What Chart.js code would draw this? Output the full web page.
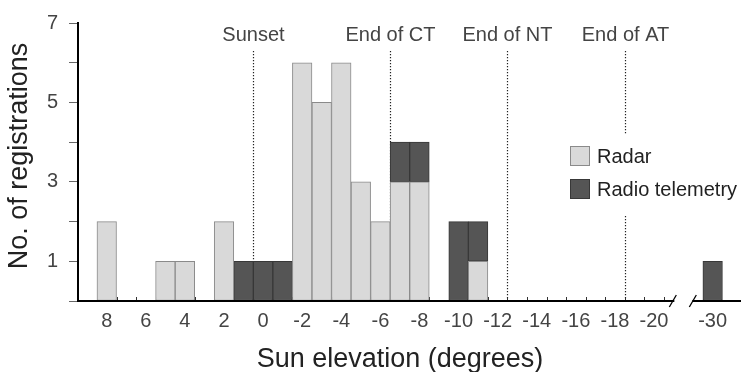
<!DOCTYPE html>
<html>
<head>
<meta charset="utf-8">
<script src="https://cdn.jsdelivr.net/npm/chart.js@4.4.1/dist/chart.umd.min.js"></script>
<style>
  html, body { margin: 0; padding: 0; background: #fff; }
  #wrap { width: 741px; height: 372px; }
</style>
</head>
<body>
<div id="wrap"><canvas id="chart"></canvas></div>
<script>
// sun elevation bins (degrees) and number of registrations per bin
var elevations      = [8, 5, 4, 2, 1, 0, -1, -2, -3, -4, -5, -6, -7, -8, -10, -11, -30];
var radarCounts     = [2, 1, 1, 2, 0, 0, 0, 6, 5, 6, 3, 2, 3, 3, 0, 1, 0];
var telemetryCounts = [0, 0, 0, 0, 1, 1, 1, 0, 0, 0, 0, 0, 1, 1, 2, 1, 1];

var xTickLabels = [8, 6, 4, 2, 0, -2, -4, -6, -8, -10, -12, -14, -16, -18, -20, -30];
var yTickLabels = [1, 3, 5, 7];

var xTitle = 'Sun elevation (degrees)';
var yTitle = 'No. of registrations';

// twilight limits (drawn on bin edges)
var markerNames = ['Sunset', 'End of CT', 'End of NT', 'End of AT'];
var markerAt    = [0.5, -6.5, -12.5, -18.5];

// axis break: everything below -20 is pulled left by 7 degrees
var BREAK_FROM = -20, BREAK_GAP = 7, BREAK_MARK = -21.5;
function toAxis(e) { return e < BREAK_FROM ? e + BREAK_GAP : e; }
function fromAxis(v) { return v < BREAK_FROM ? v - BREAK_GAP : v; }
function nz(v) { return v === 0 ? null : v; }

var FONT = "'Liberation Sans', Arial, Helvetica, sans-serif";
Chart.defaults.font.family = FONT;

var decor = {
    id: 'decor',
    beforeDatasetsDraw: function (chart) {
        var c = chart.ctx, xs = chart.scales.x, area = chart.chartArea;
        c.save();
        // small inside ticks on every bin edge
        c.strokeStyle = '#333';
        c.lineWidth = 1;
        for (var e = 8.5; e >= BREAK_FROM - 0.5; e -= 1) {
            var px = Math.round(xs.getPixelForValue(e)) + 0.5;
            c.beginPath();
            c.moveTo(px, area.bottom);
            c.lineTo(px, area.bottom - 4);
            c.stroke();
        }
        // twilight dotted lines + labels
        c.setLineDash([1.2, 1.8]);
        c.strokeStyle = '#222';
        c.lineWidth = 1.2;
        c.fillStyle = '#444';
        c.font = '20px ' + FONT;
        c.textAlign = 'center';
        c.textBaseline = 'alphabetic';
        markerAt.forEach(function (m, i) {
            var px = Math.round(xs.getPixelForValue(m)) + 0.5;
            c.beginPath();
            c.moveTo(px, area.top + 28);
            c.lineTo(px, area.bottom);
            c.stroke();
            c.fillText(markerNames[i], px, area.top + 17.5);
        });
        c.restore();
    },
    afterDatasetsDraw: function (chart) {
        var c = chart.ctx, xs = chart.scales.x, area = chart.chartArea;
        c.save();
        // legend
        var lx = area.right - 171, ly = area.top + 111;
        c.fillStyle = '#fff';
        c.fillRect(lx - 10, ly, 181, 82);
        c.font = '20px ' + FONT;
        c.textAlign = 'left';
        c.textBaseline = 'middle';
        chart.data.datasets.forEach(function (ds, i) {
            var by = ly + 12 + i * 33;
            c.fillStyle = ds.borderColor;
            c.fillRect(lx, by, 20, 20);
            c.fillStyle = ds.backgroundColor;
            c.fillRect(lx + 1, by + 1, 18, 18);
            c.fillStyle = '#222';
            c.fillText(ds.label, lx + 27, by + 11);
        });
        // x axis line with break
        var bx = xs.getPixelForValue(BREAK_MARK);
        var yb = area.bottom;
        c.strokeStyle = '#000';
        c.lineWidth = 2;
        c.beginPath();
        c.moveTo(area.left - 1, yb);
        c.lineTo(bx - 9, yb);
        c.moveTo(bx + 9, yb);
        c.lineTo(area.right, yb);
        c.stroke();
        c.lineWidth = 1.3;
        [bx - 10.5, bx + 9.5].forEach(function (sx) {
            c.beginPath();
            c.moveTo(sx - 3.5, yb + 6);
            c.lineTo(sx + 3.5, yb - 6);
            c.stroke();
        });
        // axis titles
        c.fillStyle = '#222';
        c.font = '27px ' + FONT;
        c.textAlign = 'center';
        c.textBaseline = 'alphabetic';
        c.fillText(xTitle, area.left + 322, yb + 66);
        c.translate(27, area.top + 133);
        c.rotate(-Math.PI / 2);
        c.fillText(yTitle, 0, 0);
        c.restore();
    }
};

var chart = new Chart(document.getElementById('chart'), {
    type: 'bar',
    data: {
        labels: elevations.map(toAxis),
        datasets: [{
            label: 'Radar',
            data: radarCounts.map(nz),
            backgroundColor: '#d9d9d9',
            borderColor: '#8a8a8a',
            borderWidth: 1,
            borderSkipped: false,
            barPercentage: 1,
            categoryPercentage: 1
        }, {
            label: 'Radio telemetry',
            data: telemetryCounts.map(nz),
            backgroundColor: '#555555',
            borderColor: '#383838',
            borderWidth: 1,
            borderSkipped: false,
            barPercentage: 1,
            categoryPercentage: 1
        }]
    },
    options: {
        responsive: true,
        maintainAspectRatio: false,
        animation: false,
        layout: { padding: { top: 19, right: 0, bottom: 0, left: 0 } },
        plugins: { legend: { display: false }, tooltip: { enabled: false } },
        scales: {
            x: {
                type: 'linear',
                reverse: true,
                stacked: true,
                offset: false,
                min: -24.45,
                max: 9.47,
                grid: { display: false, drawTicks: false },
                border: { display: false },
                afterBuildTicks: function (s) {
                    s.ticks = xTickLabels.map(function (v) { return { value: toAxis(v) }; });
                },
                afterFit: function (s) { s.height = 71; },
                ticks: {
                    autoSkip: false,
                    maxRotation: 0,
                    padding: 8,
                    color: '#444',
                    font: { size: 20 },
                    callback: function (v) { return String(fromAxis(v)); }
                }
            },
            y: {
                min: 0,
                max: 7,
                stacked: true,
                grid: { drawOnChartArea: false, drawTicks: true, tickLength: 9, color: '#666' },
                border: { color: '#000', width: 2 },
                afterFit: function (s) { s.width = 78; },
                ticks: {
                    stepSize: 1,
                    padding: 11,
                    color: '#444',
                    font: { size: 20 },
                    callback: function (v) { return yTickLabels.indexOf(v) >= 0 ? String(v) : ''; }
                }
            }
        }
    },
    plugins: [decor]
});
</script>
</body>
</html>
